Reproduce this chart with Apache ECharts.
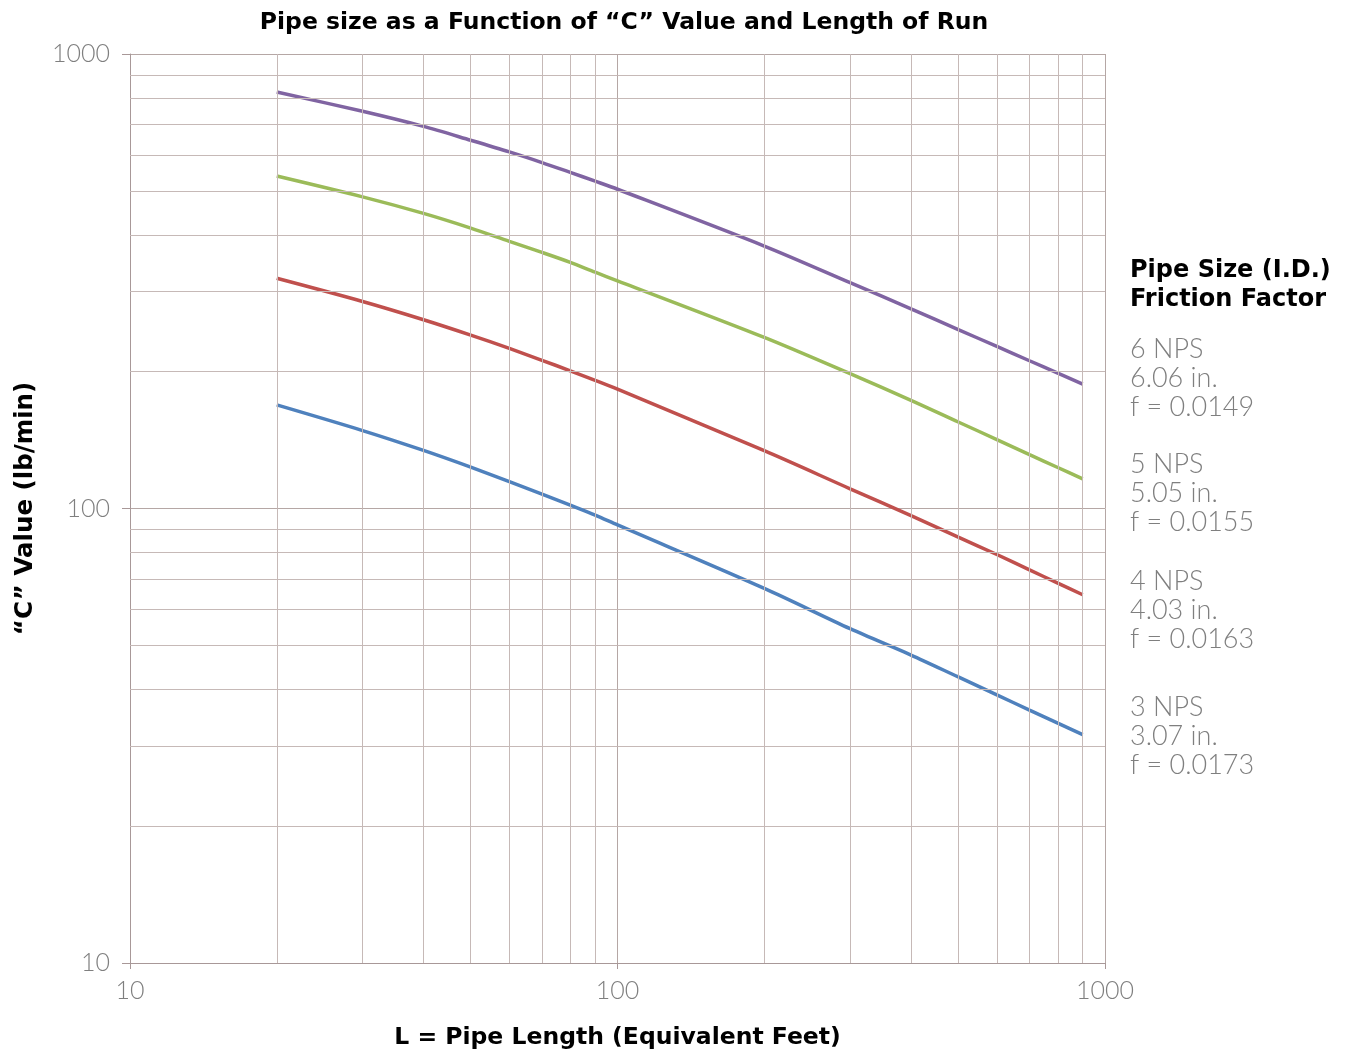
<!DOCTYPE html>
<html>
<head>
<meta charset="utf-8">
<script src="https://cdn.jsdelivr.net/npm/echarts@6/dist/echarts.min.js"></script>
<style>
html,body{margin:0;padding:0;background:#fff;}
#chart{width:1348px;height:1055px;}
</style>
</head>
<body>
<div id="chart"></div>
<script>
// Pipe length (equivalent feet)
var lengths = [20, 30, 40, 50, 60, 70, 80, 90, 100, 200, 300, 400, 500, 600, 700, 800, 900];
// "C" value (lb/min) per pipe size
var nps6 = [825, 748, 693, 646, 609, 577, 549, 525, 504, 378, 314, 275, 247.6, 227.3, 211.4, 198.6, 187.8];
var nps5 = [539, 485, 446, 414, 387, 366, 348, 331, 317, 238, 198, 173, 155, 141.8, 131.4, 123.1, 116.2];
var nps4 = [321, 285.4, 260.2, 240.7, 225, 211.9, 200.9, 191.4, 183, 134, 110.5, 96.5, 86.5, 79.2, 73.3, 68.5, 64.6];
var nps3 = [169, 148.4, 134.2, 123.3, 114.6, 107.6, 101.7, 96.7, 92, 66.7, 54.4, 47.6, 42.6, 38.9, 36.0, 33.7, 31.8];
var seriesNames = ['6 NPS', '5 NPS', '4 NPS', '3 NPS'];
var legendLines = [
  ['6 NPS', '6.06 in.', 'f = 0.0149'],
  ['5 NPS', '5.05 in.', 'f = 0.0155'],
  ['4 NPS', '4.03 in.', 'f = 0.0163'],
  ['3 NPS', '3.07 in.', 'f = 0.0173']
];
// minor log grid values
var minorGrid = [20, 30, 40, 50, 60, 70, 80, 90, 200, 300, 400, 500, 600, 700, 800, 900];

var colors = ['#8064A2', '#9BBB59', '#C0504D', '#4F81BD'];
var gridColor = '#c6b9b7';

function pairs(ys) { return lengths.map(function (x, i) { return [x, ys[i]]; }); }

var chart = echarts.init(document.getElementById('chart'));
var markData = [];
minorGrid.forEach(function (v) { markData.push({ xAxis: v }); markData.push({ yAxis: v }); });

var lightFont = 'Lato';
var boldStyle = { fontFamily: 'DejaVu Sans', fontWeight: 'bold', fontSize: 23.5, color: '#000' };
var option = {
  animation: false,
  title: {
    text: 'Pipe size as a Function of \u201cC\u201d Value and Length of Run',
    left: 619, top: 6, textAlign: 'center',
    textStyle: boldStyle
  },
  grid: { left: 130, right: 243, top: 54, bottom: 90 },
  xAxis: {
    type: 'log', logBase: 10, min: 10, max: 1000,
    name: 'L = Pipe Length (Equivalent Feet)', nameLocation: 'middle', nameGap: 63,
    nameTextStyle: boldStyle,
    axisLine: { lineStyle: { color: '#a89898', width: 1 } },
    axisTick: { show: true, length: 6, lineStyle: { color: '#a89898' } },
    axisLabel: { fontFamily: lightFont, fontWeight: 300, fontSize: 25, color: '#7f7f7f', margin: 15,
      formatter: function (v) { return String(Math.round(v)); } },
    splitLine: { show: true, lineStyle: { color: '#b5a7a5', width: 1 } }
  },
  yAxis: {
    type: 'log', logBase: 10, min: 10, max: 1000,
    name: '\u201cC\u201d Value (lb/min)', nameLocation: 'middle', nameGap: 92,
    nameTextStyle: { fontFamily: 'DejaVu Sans', fontWeight: 'bold', fontSize: 24.5, color: '#000' },
    axisLine: { show: true, lineStyle: { color: '#a89898', width: 1 } },
    axisTick: { show: true, length: 8, lineStyle: { color: '#a89898' } },
    axisLabel: { fontFamily: lightFont, fontWeight: 300, fontSize: 25, color: '#7f7f7f', margin: 20,
      formatter: function (v) { return String(Math.round(v)); } },
    splitLine: { show: true, lineStyle: { color: '#b5a7a5', width: 1 } }
  },
  series: [
    {
      name: 'grid', type: 'line', data: [], z: 1, silent: true,
      markLine: {
        silent: true, symbol: ['none', 'none'], animation: false,
        label: { show: false },
        lineStyle: { color: gridColor, type: 'solid', width: 1 },
        emphasis: { disabled: true },
        data: markData
      }
    }
  ].concat([nps6, nps5, nps4, nps3].map(function (d, i) {
    return {
      name: seriesNames[i], type: 'line', data: pairs(d), z: 3,
      symbol: 'none', smooth: 0.3,
      lineStyle: { color: colors[i], width: 3.5 },
      itemStyle: { color: colors[i] }
    };
  })),
  graphic: [
    {
      type: 'text', left: 1130, top: 256,
      style: {
        text: 'Pipe Size (I.D.)\nFriction Factor',
        font: 'bold 24px "DejaVu Sans"', fill: '#000', lineHeight: 29
      }
    }
  ].concat(legendLines.map(function (lines, i) {
    var tops = [335, 450, 567, 693];
    return {
      type: 'text', left: 1130, top: tops[i],
      style: {
        text: lines.join('\n'),
        font: '300 27px Lato', fill: '#7f7f7f', lineHeight: 29
      }
    };
  }))
};
chart.setOption(option);
</script>
</body>
</html>
